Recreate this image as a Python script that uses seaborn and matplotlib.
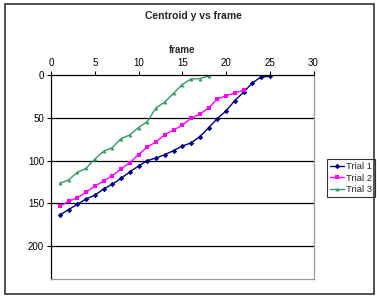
import numpy as np
import pandas as pd
import seaborn as sns
import matplotlib.pyplot as plt

trial1 = [163.7, 157.4, 151.2, 144.9, 140.6, 133.2, 127.7, 120.7, 113.3, 106.3,
          100.0, 96.9, 93.0, 88.3, 82.8, 79.3, 71.9, 61.7, 50.8, 41.8,
          29.7, 19.9, 9.0, 2.0, 1.2]
trial2 = [153.5, 147.7, 143.4, 137.1, 130.0, 123.8, 117.6, 109.8, 102.3, 93.0,
          84.0, 78.1, 69.5, 64.1, 58.6, 50.4, 45.7, 38.3, 28.1, 23.8,
          20.7, 17.6]
trial3 = [126.6, 122.7, 113.7, 109.0, 98.4, 89.1, 84.8, 74.2, 69.9, 61.3,
          54.3, 38.3, 31.3, 21.1, 10.9, 4.3, 3.9, 0.8]

rows = []
for name, vals in [('Trial 1', trial1), ('Trial 2', trial2), ('Trial 3', trial3)]:
    for i, v in enumerate(vals):
        rows.append({'frame': i + 1, 'y': v, 'trial': name})
df = pd.DataFrame(rows)

sns.set_style('white')
plt.rcParams['font.family'] = ['Liberation Sans', 'DejaVu Sans']

fig = plt.figure(figsize=(3.77, 2.98), dpi=100)
# outer chart border
fig.patches.append(plt.Rectangle((5 / 377, 4 / 298), 369 / 377, 290 / 298,
                                 transform=fig.transFigure, fill=False,
                                 edgecolor='#333333', linewidth=1.2))
ax = fig.add_axes([51 / 377, 1 - 279.3 / 298, 262.5 / 377, 204 / 298])

palette = {'Trial 1': '#000080', 'Trial 2': '#FF00FF', 'Trial 3': '#339966'}
markers = {'Trial 1': 'D', 'Trial 2': 's', 'Trial 3': '^'}
sns.lineplot(data=df, x='frame', y='y', hue='trial', style='trial',
             palette=palette, markers=markers, dashes=False, markersize=2.8,
             linewidth=1, markeredgewidth=0, ax=ax)

ax.set_xlim(0, 30)
ax.set_ylim(239, 0)
ax.set_xticks(range(0, 31, 5))
ax.set_yticks(range(0, 201, 50))
ax.xaxis.tick_top()
ax.xaxis.set_label_position('top')
ax.set_xlabel('frame', fontsize=7, fontweight='bold', labelpad=4)
ax.set_ylabel('')
ax.tick_params(axis='both', labelsize=7, length=3, width=0.8, direction='out',
               colors='black', pad=2)
ax.tick_params(axis='x', top=True, bottom=False)
ax.tick_params(axis='y', left=True)
for y in [50, 100, 150, 200]:
    ax.axhline(y, color='black', linewidth=0.9, zorder=0)
ax.spines['top'].set_color('black')
ax.spines['left'].set_color('black')
ax.spines['right'].set_color('#999999')
ax.spines['bottom'].set_color('#999999')
for s in ax.spines.values():
    s.set_linewidth(0.9)

fig.text(193 / 377, 1 - 16 / 298, 'Centroid y vs frame', ha='center', va='center',
         fontsize=7.5, fontweight='bold')

leg = ax.legend(loc='center left', bbox_to_anchor=(327 / 377, 1 - 178 / 298),
                bbox_transform=fig.transFigure, fontsize=6.8, frameon=True,
                fancybox=False, borderpad=0.3, handlelength=1.5, labelspacing=0.25,
                handletextpad=0.2, borderaxespad=0)
leg.get_frame().set_edgecolor('black')
leg.get_frame().set_linewidth(0.8)

fig.savefig('out.png', dpi=100)
